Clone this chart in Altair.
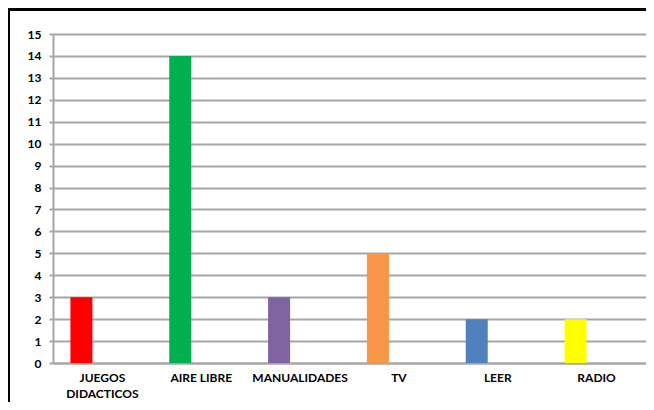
import altair as alt
import pandas as pd

categories = ["JUEGOS\nDIDACTICOS", "AIRE LIBRE", "MANUALIDADES", "TV", "LEER", "RADIO"]
values = [3, 14, 3, 5, 2, 2]
colors = ["#ff0000", "#00b050", "#8064a2", "#f79646", "#4f81bd", "#ffff00"]
y_ticks = list(range(0, 16))

df = pd.DataFrame({"cat": categories, "val": values, "color": colors})

FONT = "Lato"
GRAY = "#a6a6a6"

bars = alt.Chart(df).mark_bar(size=22, xOffset=-21).encode(
    x=alt.X("cat:N", sort=categories, title=None,
            scale=alt.Scale(paddingInner=0, paddingOuter=0),
            axis=alt.Axis(labelAngle=0, labelFont=FONT, labelFontWeight="bold",
                          labelFontSize=12, labelColor="black", labelPadding=9,
                          labelLineHeight=16, labelExpr="split(datum.label, '\\n')",
                          ticks=False, domainColor=GRAY, domainWidth=2, grid=False)),
    y=alt.Y("val:Q", title=None,
            scale=alt.Scale(domain=[0, 15], nice=False),
            axis=alt.Axis(values=y_ticks, labelFont=FONT, labelFontWeight="bold",
                          labelFontSize=12, labelColor="black", labelPadding=8,
                          tickSize=4, tickColor=GRAY, tickWidth=2,
                          domainColor=GRAY, domainWidth=2,
                          gridColor=GRAY, gridWidth=2)),
    color=alt.Color("color:N", scale=None),
)

frame = alt.Chart(pd.DataFrame({"a": [0]})).mark_rect(
    filled=False, stroke="black", strokeWidth=4
).encode(x=alt.value(-45), x2=alt.value(700), y=alt.value(-25), y2=alt.value(500))

chart = alt.layer(bars, frame).properties(
    width=593, height=329,
    padding={"left": 45, "top": 26, "right": 0, "bottom": 39},
    autosize=alt.AutoSizeParams(type="none"),
).configure_view(stroke=None)

chart.save("out.html", embed_options={"renderer": "svg", "actions": False})
